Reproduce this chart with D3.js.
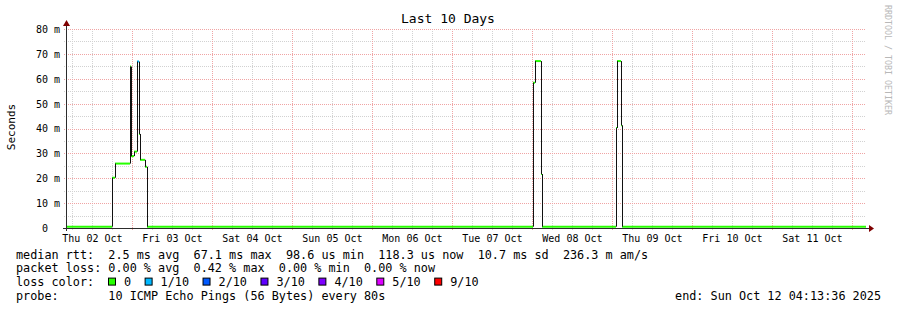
<!DOCTYPE html>
<html>
<head>
<meta charset="utf-8">
<script src="https://cdn.jsdelivr.net/npm/d3@7"></script>
<style>
html, body { margin: 0; padding: 0; background: #fff; }
text { font-family: "DejaVu Sans Mono", monospace; white-space: pre; }
</style>
</head>
<body>
<div id="chart"></div>
<script>
// median rtt steps: each value holds from its time to the next one
var stepTimes = [
  "2025-10-02T04:13:36Z", "2025-10-02T18:07Z", "2025-10-02T18:49Z", "2025-10-02T23:31Z",
  "2025-10-02T23:52Z", "2025-10-03T00:32Z", "2025-10-03T01:31Z", "2025-10-03T02:13Z",
  "2025-10-03T02:34Z", "2025-10-03T04:01Z", "2025-10-03T04:26Z",
  "2025-10-08T00:25Z", "2025-10-08T01:01Z", "2025-10-08T02:38Z", "2025-10-08T03:07Z",
  "2025-10-09T01:08Z", "2025-10-09T01:37Z", "2025-10-09T02:38Z", "2025-10-09T03:07Z"
];
var medianMs = [
  0.12, 19.8, 25.5, 64.5,
  28.5, 30.3, 66.5, 37.4,
  27.0, 24.2, 0.12,
  58.0, 66.7, 21.3, 0.12,
  39.8, 66.7, 40.9, 0.12
];
var lossIdx = [
  0, 0, 0, 0,
  0, 0, 1, 0,
  0, 0, 0,
  0, 0, 0, 0,
  0, 0, 0, 0
];

var lossLabels = ["0", "1/10", "2/10", "3/10", "4/10", "5/10", "9/10"];
var lossColors = ["#26ff00", "#00b8ff", "#0059ff", "#5e00ff", "#7e00ff", "#dd00ff", "#ff0000"];

var yTicks = [0, 10, 20, 30, 40, 50, 60, 70, 80];
var yMinor = [5, 15, 25, 35, 45, 55, 65, 75];

var startTime = new Date("2025-10-02T04:13:36Z");
var endTime = new Date("2025-10-12T04:13:36Z");

var titleText = "Last 10 Days";
var rttLine = "median rtt:  2.5 ms avg  67.1 ms max  98.6 us min  118.3 us now  10.7 ms sd  236.3 m am/s";
var lossLine = "packet loss: 0.00 % avg  0.42 % max  0.00 % min  0.00 % now";
var probeLine = "probe:       10 ICMP Echo Pings (56 Bytes) every 80s";
var endLine = "end: Sun Oct 12 04:13:36 2025";

var W = 897, H = 310;
var x0 = 66, x1 = 866, yBase = 228, yTop = 29;

var svg = d3.select('#chart').append('svg')
  .attr('width', W).attr('height', H);

var x = d3.scaleUtc().domain([startTime, endTime]).range([x0, x1]);
var y = d3.scaleLinear().domain([0, 80]).range([yBase, yTop]);

function px(v) { return Math.round(v) + 0.5; }

var minorCol = '#d2d2d2', majorCol = '#f0a4a4';

// grid
var grid = svg.append('g');
var days = d3.utcDay.range(d3.utcDay.ceil(startTime), endTime);
var sixHours = d3.utcHour.every(6).range(startTime, endTime).filter(function(d) { return d.getUTCHours() !== 0; });

grid.selectAll('.vmin').data(sixHours).enter().append('line')
  .attr('x1', function(d) { return px(x(d)); }).attr('x2', function(d) { return px(x(d)); })
  .attr('y1', yTop).attr('y2', yBase + 2)
  .attr('stroke', minorCol).attr('stroke-dasharray', '1,1');
grid.selectAll('.hmin').data(yMinor).enter().append('line')
  .attr('x1', x0 - 2).attr('x2', x1)
  .attr('y1', function(d) { return px(y(d)); }).attr('y2', function(d) { return px(y(d)); })
  .attr('stroke', minorCol).attr('stroke-dasharray', '1,1');
grid.selectAll('.vmaj').data(days).enter().append('line')
  .attr('x1', function(d) { return px(x(d)); }).attr('x2', function(d) { return px(x(d)); })
  .attr('y1', yTop).attr('y2', yBase + 2)
  .attr('stroke', majorCol).attr('stroke-dasharray', '1,1');
grid.selectAll('.hmaj').data(yTicks.slice(1)).enter().append('line')
  .attr('x1', x0 - 2).attr('x2', x1)
  .attr('y1', function(d) { return px(y(d)); }).attr('y2', function(d) { return px(y(d)); })
  .attr('stroke', majorCol).attr('stroke-dasharray', '1,1');

// y labels
var yAxis = d3.axisLeft(y).tickValues(yTicks).tickSize(0).tickPadding(0)
  .tickFormat(function(d) { return d === 0 ? '0  ' : d + ' m'; });
var gy = svg.append('g').attr('transform', 'translate(60,0)').call(yAxis);
gy.select('.domain').remove();
gy.selectAll('text').attr('font-family', '"DejaVu Sans Mono", monospace')
  .attr('font-size', '10px').attr('fill', '#000').attr('dy', '0.34em').attr('x', 0);

// x labels at noon of each day
var noons = days.map(function(d) { return d3.utcHour.offset(d, -12); });
var xAxis = d3.axisBottom(x).tickValues(noons).tickSize(0).tickPadding(0)
  .tickFormat(d3.utcFormat('%a %d %b'));
var gx = svg.append('g').attr('transform', 'translate(0,' + yBase + ')').call(xAxis);
gx.select('.domain').remove();
gx.selectAll('text').attr('font-family', '"DejaVu Sans Mono", monospace')
  .attr('font-size', '10px').attr('fill', '#000').attr('y', 14).attr('dy', 0);

// median line
var steps = stepTimes.map(function(t, i) {
  return { t0: new Date(t), t1: i < stepTimes.length - 1 ? new Date(stepTimes[i + 1]) : endTime,
           v: medianMs[i], loss: lossIdx[i] };
});

var line = svg.append('g');
line.selectAll('.seg').data(steps).enter().append('line')
  .attr('x1', function(d) { return Math.round(x(d.t0)); })
  .attr('x2', function(d) { return Math.round(x(d.t1)); })
  .attr('y1', function(d) { return y(d.v) - 1; })
  .attr('y2', function(d) { return y(d.v) - 1; })
  .attr('stroke', function(d) { return lossColors[d.loss]; })
  .attr('stroke-width', 2);
line.selectAll('.rise').data(steps.slice(1)).enter().append('line')
  .attr('x1', function(d) { return px(x(d.t0)); })
  .attr('x2', function(d) { return px(x(d.t0)); })
  .attr('y1', function(d, i) { return y(steps[i].v) - 1; })
  .attr('y2', function(d) { return y(d.v) - 1; })
  .attr('stroke', '#111').attr('stroke-width', 1);

// axes lines + arrows
svg.append('line').attr('x1', x0 - 3).attr('x2', x1 + 3)
  .attr('y1', yBase + 0.5).attr('y2', yBase + 0.5).attr('stroke', '#2c2c2c');
svg.append('line').attr('x1', x0 + 0.5).attr('x2', x0 + 0.5)
  .attr('y1', yBase + 3).attr('y2', yTop - 4).attr('stroke', '#2c2c2c');
svg.append('path').attr('d', 'M' + (x0 - 3) + ',' + (yTop - 3) + 'L' + (x0 + 0.5) + ',' + (yTop - 9) + 'L' + (x0 + 4) + ',' + (yTop - 3) + 'Z')
  .attr('fill', '#7f0000');
svg.append('path').attr('d', 'M' + (x1 + 3) + ',' + (yBase - 3) + 'L' + (x1 + 8) + ',' + (yBase + 0.5) + 'L' + (x1 + 3) + ',' + (yBase + 4) + 'Z')
  .attr('fill', '#7f0000');

// titles
svg.append('text').attr('x', 448).attr('y', 23).attr('text-anchor', 'middle')
  .attr('font-size', '13px').text(titleText);
svg.append('text').attr('transform', 'translate(15,127) rotate(-90)')
  .attr('text-anchor', 'middle').attr('font-family', '"DejaVu Sans", sans-serif')
  .attr('font-size', '11px').text('Seconds');
svg.append('text').attr('transform', 'translate(885,5) rotate(90)')
  .attr('font-size', '8.3px').attr('fill', '#b8b8b8').text('RRDTOOL / TOBI OETIKER');

// legend block
var fs = '11.8px';
var rowY = [258.5, 272.3, 286.1, 299.9];
svg.append('text').attr('x', 16).attr('y', rowY[0]).attr('font-size', fs).text(rttLine);
svg.append('text').attr('x', 16).attr('y', rowY[1]).attr('font-size', fs).text(lossLine);
svg.append('text').attr('x', 16).attr('y', rowY[2]).attr('font-size', fs).text('loss color:');
svg.append('text').attr('x', 16).attr('y', rowY[3]).attr('font-size', fs).text(probeLine);
svg.append('text').attr('x', 881).attr('y', rowY[3]).attr('text-anchor', 'end')
  .attr('font-size', fs).text(endLine);

var sx = 108.5;
lossLabels.forEach(function(lab, i) {
  svg.append('rect').attr('x', sx).attr('y', rowY[2] - 8).attr('width', 7).attr('height', 7)
    .attr('fill', lossColors[i]).attr('stroke', '#000').attr('stroke-width', 1);
  var t = svg.append('text').attr('x', sx + 15.5).attr('y', rowY[2]).attr('font-size', fs).text(lab);
  sx = sx + 15.5 + t.node().getComputedTextLength() + 14;
});
</script>
</body>
</html>
